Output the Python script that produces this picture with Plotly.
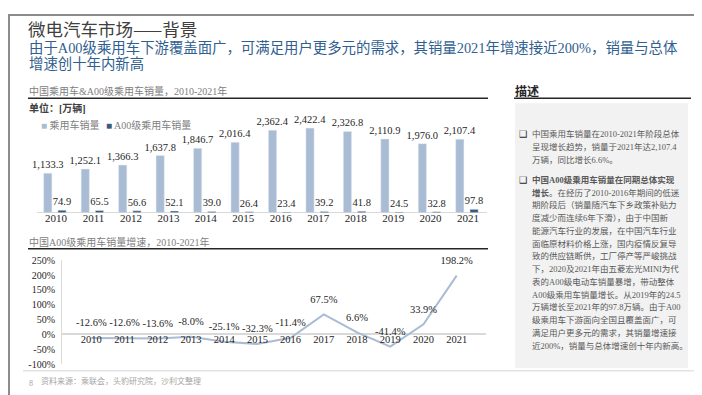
import plotly.graph_objects as go

W, H = 702, 395

years = ["2010", "2011", "2012", "2013", "2014", "2015", "2016", "2017", "2018", "2019", "2020", "2021"]
pv_sales = [1133.3, 1252.1, 1366.3, 1637.8, 1846.7, 2016.4, 2362.4, 2422.4, 2326.8, 2110.9, 1976.0, 2107.4]
a00_sales = [74.9, 65.5, 56.6, 52.1, 39.0, 26.4, 23.4, 39.2, 41.8, 24.5, 32.8, 97.8]
a00_growth = [-12.6, -12.6, -13.6, -8.0, -25.1, -32.3, -11.4, 67.5, 6.6, -41.4, 33.9, 198.2]
growth_ticks = [-100, -50, 0, 50, 100, 150, 200, 250]

bullet1 = [
    "中国乘用车销量在2010-2021年阶段总体",
    "呈现增长趋势，销量于2021年达2,107.4",
    "万辆，同比增长6.6%。",
]
bullet2 = [
    "<b>中国A00级乘用车销量在同期总体实现</b>",
    "<b>增长</b>。在经历了2010-2016年期间的低迷",
    "期阶段后（销量随汽车下乡政策补贴力",
    "度减少而连续6年下滑），由于中国新",
    "能源汽车行业的发展，在中国汽车行业",
    "面临原材料价格上涨，国内疫情反复导",
    "致的供应链断供，工厂停产等严峻挑战",
    "下，2020及2021年由五菱宏光MINI为代",
    "表的A00级电动车销量暴增，带动整体",
    "A00级乘用车销量增长。从2019年的24.5",
    "万辆增长至2021年的97.8万辆。由于A00",
    "级乘用车下游面向全国且覆盖面广，可",
    "满足用户更多元的需求，其销量增速接",
    "近200%，销量与总体增速创十年内新高。",
]

FONT = "Liberation Serif, Noto Sans CJK SC, serif"
CJK = "Noto Sans CJK SC, Liberation Serif, sans-serif"
LIGHT = "#a9bcd4"
DARK = "#3e5a7a"


def px(x):
    return x / W


def py(y):
    return 1 - y / H


fig = go.Figure()

fig.add_trace(go.Bar(
    x=years, y=pv_sales, name="乘用车销量", marker_color=LIGHT,
    width=0.22, offset=-0.33, texttemplate="%{y:,.1f}", textposition="outside",
    constraintext="none", cliponaxis=False,
    textfont=dict(family=FONT, size=10.5, color="#262626"),
    xaxis="x", yaxis="y",
))
fig.add_trace(go.Bar(
    x=years, y=a00_sales, name="A00级乘用车销量", marker_color=DARK,
    width=0.22, offset=0.05, texttemplate="%{y:,.1f}", textposition="outside",
    constraintext="none", cliponaxis=False,
    textfont=dict(family=FONT, size=10.5, color="#262626"),
    xaxis="x", yaxis="y",
))
fig.add_trace(go.Scatter(
    x=years, y=a00_growth, mode="lines+markers+text", line=dict(color=LIGHT, width=2),
    marker=dict(size=13, color="rgba(0,0,0,0)"),
    text=[f"{v:.1f}%" for v in a00_growth], textposition="top center",
    textfont=dict(family=FONT, size=10.5, color="#262626"),
    cliponaxis=False, xaxis="x2", yaxis="y2",
))

fig.update_layout(
    width=W, height=H, margin=dict(l=0, r=0, t=0, b=0),
    paper_bgcolor="white", plot_bgcolor="rgba(0,0,0,0)",
    showlegend=False, barmode="overlay",
    font=dict(family=FONT, color="#404040"),
    xaxis=dict(domain=[px(29.3), px(478.8)], anchor="free", position=py(202.5), type="category",
               showline=False, ticks="",
               tickfont=dict(family=FONT, size=11, color="#262626"), showgrid=False),
    yaxis=dict(domain=[py(205), py(110)], range=[0, 2636], anchor="x", showticklabels=False,
               showline=False, ticks="", showgrid=False,
               zeroline=True, zerolinecolor="#d9d9d9", zerolinewidth=1),
    xaxis2=dict(domain=[px(54), px(478)], anchor="free", position=py(327), type="category",
                showline=False, ticks="",
                tickfont=dict(family=FONT, size=10.5, color="#262626"), showgrid=False),
    yaxis2=dict(domain=[py(361), py(254)], range=[-100, 250], anchor="x2",
                tickvals=growth_ticks, ticktext=[f"{v}%" for v in growth_ticks],
                showline=True, linecolor="#d9d9d9", linewidth=1, ticks="",
                tickfont=dict(family=FONT, size=10, color="#262626"),
                showgrid=False, zeroline=True, zerolinecolor="#d9d9d9", zerolinewidth=1.5,
                ticklabelstandoff=4),
)

shapes = []
# slide border
shapes.append(dict(type="rect", xref="paper", yref="paper", x0=px(1), x1=px(701), y0=py(394), y1=py(1),
                   line=dict(color="#8c8c8c", width=2)))
# chart title underlines
shapes.append(dict(type="line", xref="paper", yref="paper", x0=px(20), x1=px(480), y0=py(87), y1=py(87),
                   line=dict(color="#262626", width=1.5)))
shapes.append(dict(type="line", xref="paper", yref="paper", x0=px(20), x1=px(480), y0=py(242), y1=py(242),
                   line=dict(color="#262626", width=1.5)))
shapes.append(dict(type="line", xref="paper", yref="paper", x0=px(506), x1=px(683), y0=py(87), y1=py(87),
                   line=dict(color="#262626", width=1.5)))
# description box
shapes.append(dict(type="rect", xref="paper", yref="paper", x0=px(507), x1=px(680), y0=py(365), y1=py(92),
                   fillcolor="#f2f2f2", line=dict(width=0), layer="below"))
# footer separator
shapes.append(dict(type="line", xref="paper", yref="paper", x0=px(15), x1=px(690), y0=py(368), y1=py(368),
                   line=dict(color="#e3e3e3", width=1.5)))
fig.update_layout(shapes=shapes)

ann = []


def text(x, y, s, size, color, family=FONT, xanchor="left"):
    ann.append(dict(x=px(x), y=py(y), xref="paper", yref="paper", text=s, showarrow=False,
                    xanchor=xanchor, yanchor="middle", align="left",
                    font=dict(family=family, size=size, color=color)))


text(18, 15, "微电汽车市场——背景", 17.5, "#404040", family=CJK)
text(19, 35, "由于A00级乘用车下游覆盖面广，可满足用户更多元的需求，其销量2021年增速接近200%，销量与总体", 14.4, "#2f6090")
text(19, 52, "增速创十年内新高", 14.4, "#2f6090")

text(19, 79, "中国乘用车&A00级乘用车销量，2010-2021年", 10, "#808080")
text(19, 97, "<b>单位：[万辆]</b>", 10, "#404040")
text(31, 114, f"<span style='color:{LIGHT}'>■</span> 乘用车销量", 10, "#808080")
text(96, 114, f"<span style='color:{DARK}'>■</span> A00级乘用车销量", 10, "#808080")

text(19, 235, "中国A00级乘用车销量增速，2010-2021年", 10, "#808080")

text(505, 80, "<b>描述</b>", 12, "#262626")

text(509, 124, "❑", 9, "#262626", family="DejaVu Sans")
for i, line in enumerate(bullet1):
    text(522, 124 + 13.1 * i, line, 8.5, "#595959")
text(509, 171, "❑", 9, "#262626", family="DejaVu Sans")
for i, line in enumerate(bullet2):
    text(522, 171 + 13.15 * i, line, 8.5, "#595959")

text(19, 381, "8", 8, "#a6a6a6")
text(31, 378, "资料来源：乘联会，头豹研究院，沙利文整理", 8, "#a6a6a6")

fig.update_layout(annotations=ann)

fig.write_html("out.html")
